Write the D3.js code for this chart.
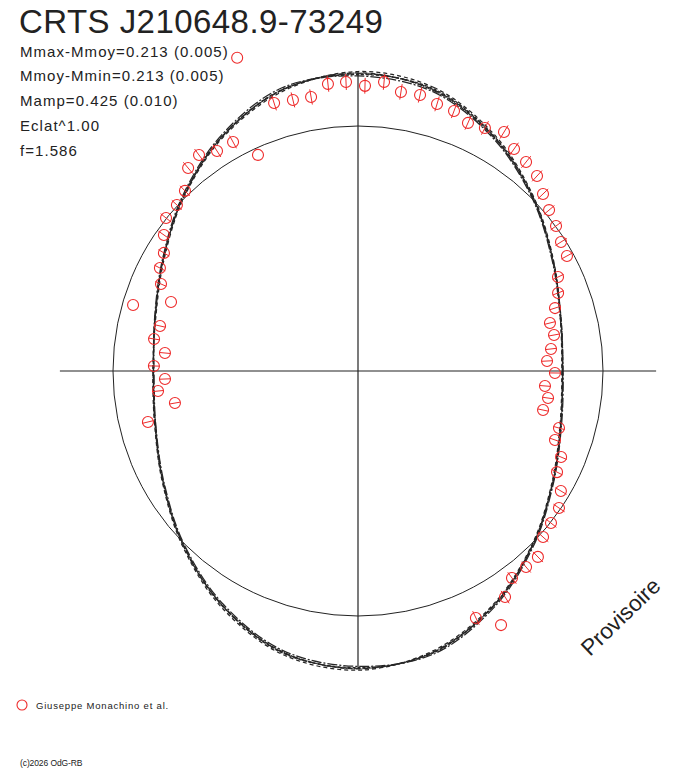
<!DOCTYPE html>
<html>
<head>
<meta charset="utf-8">
<script src="https://cdn.jsdelivr.net/npm/d3@7"></script>
<style>
  body { margin: 0; background: #fff; }
  text { font-family: "Liberation Sans", Arial, sans-serif; fill: #222; }
</style>
</head>
<body>
<div id="graph"></div>
<script>
// ########## data #############
const starName = "CRTS J210648.9-73249";
const infoLines = [
    "Mmax-Mmoy=0.213 (0.005)",
    "Mmoy-Mmin=0.213 (0.005)",
    "Mamp=0.425 (0.010)",
    "Eclat^1.00",
    "f=1.586"
];
const observer = "Giuseppe Monachino et al.";
const copyright = "(c)2026 OdG-RB";
const stamp = "Provisoire";

// Mmax-Mmoy, used for the length of the axes
const dmMax = 0.213;

// observations: phase, magnitude minus mean, error
const obsPhase = [
    0.9414, 0.9310, 0.8990, 0.9093, 0.9205, 0.8891, 0.8782, 0.8681, 0.8571, 0.8473,
    0.8370, 0.8263, 0.8162, 0.7954, 0.8063, 0.7856, 0.7748, 0.7648, 0.7539, 0.7434,
    0.7341, 0.7224, 0.7121, 0.9517, 0.9625, 0.9730, 0.9834, 0.9934, 0.0039, 0.0143,
    0.0243, 0.0352, 0.0458, 0.0563, 0.0664, 0.0766, 0.0873, 0.0975, 0.1078, 0.1182,
    0.1285, 0.1386, 0.1494, 0.1599, 0.1699, 0.1801, 0.1908, 0.2008, 0.2110, 0.2211,
    0.2319, 0.2416, 0.2516, 0.2627, 0.2725, 0.2831, 0.2940, 0.3036, 0.3138, 0.3248,
    0.3350, 0.3452, 0.3562, 0.3664, 0.3776, 0.3872, 0.3982, 0.4082, 0.4291, 0.4184
];
const obsMag = [
    0.342, -0.031, 0.098, 0.070, 0.068, 0.084, 0.021, 0.003, 0.002, -0.036,
    -0.082, -0.101, -0.140, -0.048, -0.224, -0.204, -0.186, -0.254, -0.198, -0.258,
    -0.215, -0.300, -0.136, 0.148, 0.140, 0.137, 0.178, 0.180, 0.165, 0.184,
    0.154, 0.156, 0.139, 0.134, 0.111, 0.122, 0.145, 0.111, 0.098, 0.084,
    0.048, 0.021, 0.002, -0.020, -0.029, -0.112, -0.143, -0.184, -0.232, -0.224,
    -0.252, -0.280, -0.237, -0.290, -0.265, -0.281, -0.173, -0.174, -0.114, -0.101,
    -0.042, -0.008, 0.003, 0.016, 0.059, 0.057, 0.056, 0.104, 0.120, 0.189
];
const obsErr = [
    0, 0, 0.03, 0.03, 0.03, 0.03, 0.03, 0.03, 0.03, 0.03,
    0.03, 0.03, 0.03, 0, 0, 0.03, 0.03, 0.03, 0.03, 0.03,
    0.03, 0.03, 0.03, 0.03, 0.03, 0.03, 0.03, 0.03, 0.03, 0.03,
    0.03, 0.03, 0.03, 0.03, 0.03, 0.03, 0.03, 0.03, 0.03, 0.03,
    0.03, 0.03, 0.03, 0.03, 0.03, 0.03, 0.03, 0.03, 0.03, 0.03,
    0.03, 0.03, 0.03, 0.03, 0.03, 0.03, 0.03, 0.03, 0.03, 0.03,
    0.03, 0.03, 0.03, 0.03, 0.03, 0.03, 0.03, 0.03, 0.03, 0
];

// fitted light curves, magnitude minus mean every 1/24 of phase
const fitPhase = d3.range(24).map(i => i / 24);
const fitA = [0.210, 0.188, 0.110, 0.008, -0.094, -0.168, -0.196, -0.168, -0.094, 0.008, 0.110, 0.188,
              0.210, 0.188, 0.110, 0.008, -0.094, -0.168, -0.196, -0.168, -0.094, 0.008, 0.110, 0.188];
const fitB = [0.218, 0.196, 0.117, 0.012, -0.091, -0.171, -0.200, -0.172, -0.098, 0.004, 0.105, 0.182,
              0.217, 0.195, 0.117, 0.013, -0.090, -0.165, -0.193, -0.171, -0.098, 0.004, 0.105, 0.182];
const fitC = [0.202, 0.180, 0.103, 0.003, -0.098, -0.171, -0.193, -0.164, -0.090, 0.013, 0.116, 0.194,
              0.203, 0.181, 0.103, 0.003, -0.098, -0.171, -0.199, -0.165, -0.090, 0.013, 0.116, 0.195];
const fitD = [0.213, 0.185, 0.107, 0.006, -0.095, -0.167, -0.195, -0.169, -0.095, 0.007, 0.109, 0.186,
              0.212, 0.186, 0.108, 0.007, -0.093, -0.167, -0.196, -0.168, -0.094, 0.007, 0.109, 0.187];
const fitE = [0.207, 0.191, 0.112, 0.009, -0.093, -0.169, -0.197, -0.167, -0.093, 0.009, 0.111, 0.190,
              0.208, 0.190, 0.111, 0.009, -0.095, -0.169, -0.195, -0.167, -0.093, 0.009, 0.111, 0.189];
const fitCurves = [fitA, fitB, fitC, fitD, fitE];

// ########## layout #############
const width = 688, height = 768;
const cx = 358, cy = 371;
const red = "#ee2b2b";

const svg = d3.select("#graph").append("svg")
        .attr("width", width).attr("height", height)
        .attr("viewBox", `0 0 ${width} ${height}`);
svg.append("rect").attr("width", width).attr("height", height).attr("fill", "#fff");

// phase -> angle (clockwise from the top), magnitude -> radius through the flux ratio
const angle = d3.scaleLinear().domain([0, 1]).range([0, 2 * Math.PI]);
const radius = d3.scaleLinear().domain([0, 1]).range([0, 245]);
function rOf(dm) { return radius(Math.pow(10, 0.4 * dm)); }
function px(ph, dm) { return cx + rOf(dm) * Math.sin(angle(ph)); }
function py(ph, dm) { return cy - rOf(dm) * Math.cos(angle(ph)); }

const plot = svg.append("g");

// mean level circle
plot.append("circle")
    .attr("cx", cx).attr("cy", cy).attr("r", rOf(0))
    .attr("fill", "none").attr("stroke", "#222").attr("stroke-width", 1);

// axes
const axLen = rOf(dmMax);
plot.append("line")
    .attr("x1", cx - axLen).attr("x2", cx + axLen).attr("y1", cy).attr("y2", cy)
    .attr("stroke", "#222").attr("stroke-width", 1.2);
plot.append("line")
    .attr("x1", cx).attr("x2", cx).attr("y1", cy - axLen + 2).attr("y2", cy + axLen - 2)
    .attr("stroke", "#222").attr("stroke-width", 1.2);

// fitted curves, drawn several times like the original bundle
const radial = d3.lineRadial()
    .angle((d, i) => angle(fitPhase[i]))
    .radius(d => rOf(d))
    .curve(d3.curveCardinalClosed);
const dashes = ["7,2", "4,3", "10,2,2,2", "5,1,1,1", "3,2"];
plot.append("g").attr("transform", `translate(${cx},${cy})`)
    .selectAll("path")
    .data(fitCurves).enter()
    .append("path")
    .attr("d", radial)
    .attr("fill", "none")
    .attr("stroke", "#262626")
    .attr("stroke-width", 1.25)
    .attr("stroke-dasharray", (d, i) => dashes[i]);

// observations
const obs = obsPhase.map((p, i) => ({ ph: p, dm: obsMag[i], err: obsErr[i] }));

plot.append("g").selectAll("line")
    .data(obs.filter(d => d.err > 0)).enter()
    .append("line")
    .attr("x1", d => px(d.ph, d.dm - d.err)).attr("y1", d => py(d.ph, d.dm - d.err))
    .attr("x2", d => px(d.ph, d.dm + d.err)).attr("y2", d => py(d.ph, d.dm + d.err))
    .attr("stroke", red).attr("stroke-width", 1);

plot.append("g").selectAll("circle")
    .data(obs).enter()
    .append("circle")
    .attr("cx", d => px(d.ph, d.dm))
    .attr("cy", d => py(d.ph, d.dm))
    .attr("r", 5.5)
    .attr("fill", "none")
    .attr("stroke", red)
    .attr("stroke-width", 1.1);

// ########## texts #############
svg.append("text").attr("x", 19).attr("y", 33)
    .style("font-size", "33px").style("letter-spacing", "0.45px")
    .text(starName);

svg.selectAll(".info")
    .data(infoLines).enter()
    .append("text").attr("class", "info")
    .attr("x", 20)
    .attr("y", (d, i) => 56.5 + i * 24.8)
    .style("font-size", "15px")
    .style("letter-spacing", "1.05px")
    .text(d => d);

svg.append("text")
    .attr("transform", "translate(590,657) rotate(-44)")
    .style("font-size", "22.5px")
    .text(stamp);

// legend
svg.append("circle").attr("cx", 22).attr("cy", 705).attr("r", 5)
    .attr("fill", "none").attr("stroke", red).attr("stroke-width", 1.1);
svg.append("text").attr("x", 36).attr("y", 709)
    .style("font-size", "9.5px").style("letter-spacing", "0.8px")
    .text(observer);

svg.append("text").attr("x", 20).attr("y", 766)
    .style("font-size", "8.5px").style("letter-spacing", "-0.1px")
    .text(copyright);
</script>
</body>
</html>
